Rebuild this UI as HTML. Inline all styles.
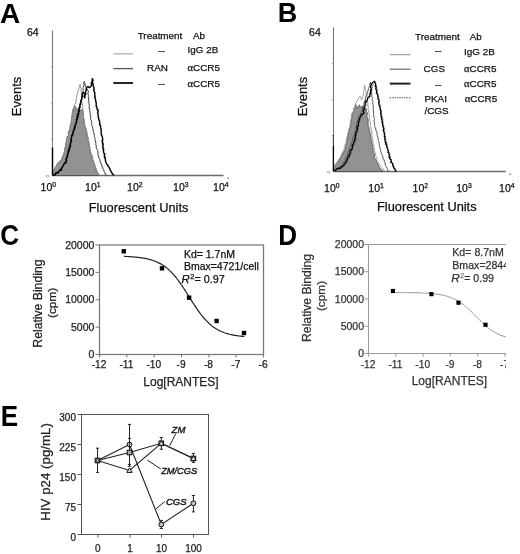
<!DOCTYPE html>
<html><head><meta charset="utf-8"><style>
html,body{margin:0;padding:0;background:#fff;}
body{width:520px;height:554px;overflow:hidden;font-family:"Liberation Sans", sans-serif;}
svg{display:block;filter:blur(0.4px);}
</style></head><body>
<svg width="520" height="554" viewBox="0 0 520 554">
<rect width="520" height="554" fill="#fff"/>
<text x="0.1" y="22.6" font-size="28" text-anchor="start" font-weight="bold" font-style="normal" fill="#000" font-family='"Liberation Sans", sans-serif' >A</text>
<text x="277.8" y="22.4" font-size="27" text-anchor="start" font-weight="bold" font-style="normal" fill="#000" font-family='"Liberation Sans", sans-serif' >B</text>
<text x="0" y="0" font-size="28.6" text-anchor="start" font-weight="bold" font-style="normal" fill="#000" font-family='"Liberation Sans", sans-serif' transform="translate(0.3,244.6) scale(0.91,1)">C</text>
<text x="0" y="0" font-size="28.6" text-anchor="start" font-weight="bold" font-style="normal" fill="#000" font-family='"Liberation Sans", sans-serif' transform="translate(278.2,245) scale(0.91,1)">D</text>
<text x="0" y="0" font-size="28.6" text-anchor="start" font-weight="bold" font-style="normal" fill="#000" font-family='"Liberation Sans", sans-serif' transform="translate(0.8,425.6) scale(0.91,1)">E</text>
<line x1="52.5" y1="30.6" x2="52.5" y2="175.5" stroke="#777" stroke-width="1.1" />
<line x1="52.5" y1="175.5" x2="223.5" y2="175.5" stroke="#6a6a6a" stroke-width="1.3" />
<circle cx="228.0" cy="178.2" r="0.7" fill="#444"/>
<line x1="51.0" y1="66.825" x2="52.5" y2="66.825" stroke="#999" stroke-width="1" />
<line x1="51.0" y1="103.05000000000001" x2="52.5" y2="103.05000000000001" stroke="#999" stroke-width="1" />
<line x1="51.0" y1="139.275" x2="52.5" y2="139.275" stroke="#999" stroke-width="1" />
<ellipse cx="47.7" cy="176.2" rx="1.6" ry="0.9" fill="none" stroke="#888" stroke-width="0.6"/>
<text x="48.3" y="191" font-size="10.5" text-anchor="middle" fill="#111" stroke="#111" stroke-width="0.25" font-family='"Liberation Sans", sans-serif'>10<tspan font-size="6.8" dy="-3.6">0</tspan></text>
<text x="92.8" y="191" font-size="10.5" text-anchor="middle" fill="#111" stroke="#111" stroke-width="0.25" font-family='"Liberation Sans", sans-serif'>10<tspan font-size="6.8" dy="-3.6">1</tspan></text>
<text x="134.8" y="191" font-size="10.5" text-anchor="middle" fill="#111" stroke="#111" stroke-width="0.25" font-family='"Liberation Sans", sans-serif'>10<tspan font-size="6.8" dy="-3.6">2</tspan></text>
<text x="180.8" y="191" font-size="10.5" text-anchor="middle" fill="#111" stroke="#111" stroke-width="0.25" font-family='"Liberation Sans", sans-serif'>10<tspan font-size="6.8" dy="-3.6">3</tspan></text>
<text x="220.8" y="191" font-size="10.5" text-anchor="middle" fill="#111" stroke="#111" stroke-width="0.25" font-family='"Liberation Sans", sans-serif'>10<tspan font-size="6.8" dy="-3.6">4</tspan></text>
<line x1="333.5" y1="27.4" x2="333.5" y2="171.5" stroke="#777" stroke-width="1.1" />
<line x1="333.5" y1="171.5" x2="505.7" y2="171.5" stroke="#6a6a6a" stroke-width="1.3" />
<circle cx="510.2" cy="174.2" r="0.7" fill="#444"/>
<line x1="332.0" y1="63.425" x2="333.5" y2="63.425" stroke="#999" stroke-width="1" />
<line x1="332.0" y1="99.44999999999999" x2="333.5" y2="99.44999999999999" stroke="#999" stroke-width="1" />
<line x1="332.0" y1="135.475" x2="333.5" y2="135.475" stroke="#999" stroke-width="1" />
<ellipse cx="328.7" cy="172.2" rx="1.6" ry="0.9" fill="none" stroke="#888" stroke-width="0.6"/>
<text x="331.8" y="191.5" font-size="10.5" text-anchor="middle" fill="#111" stroke="#111" stroke-width="0.25" font-family='"Liberation Sans", sans-serif'>10<tspan font-size="6.8" dy="-3.6">0</tspan></text>
<text x="376.1" y="191.5" font-size="10.5" text-anchor="middle" fill="#111" stroke="#111" stroke-width="0.25" font-family='"Liberation Sans", sans-serif'>10<tspan font-size="6.8" dy="-3.6">1</tspan></text>
<text x="420.3" y="191.5" font-size="10.5" text-anchor="middle" fill="#111" stroke="#111" stroke-width="0.25" font-family='"Liberation Sans", sans-serif'>10<tspan font-size="6.8" dy="-3.6">2</tspan></text>
<text x="464.0" y="191.5" font-size="10.5" text-anchor="middle" fill="#111" stroke="#111" stroke-width="0.25" font-family='"Liberation Sans", sans-serif'>10<tspan font-size="6.8" dy="-3.6">3</tspan></text>
<text x="506.8" y="191.5" font-size="10.5" text-anchor="middle" fill="#111" stroke="#111" stroke-width="0.25" font-family='"Liberation Sans", sans-serif'>10<tspan font-size="6.8" dy="-3.6">4</tspan></text>
<text x="38.6" y="35.8" font-size="10.5" text-anchor="end" font-weight="normal" font-style="normal" fill="#111" stroke="#111" stroke-width="0.25" font-family='"Liberation Sans", sans-serif' >64</text>
<text x="320.8" y="35.7" font-size="10.5" text-anchor="end" font-weight="normal" font-style="normal" fill="#111" stroke="#111" stroke-width="0.25" font-family='"Liberation Sans", sans-serif' >64</text>
<text x="88.8" y="211.9" font-size="12.8" text-anchor="start" font-weight="normal" font-style="normal" fill="#111" stroke="#111" stroke-width="0.25" font-family='"Liberation Sans", sans-serif' >Fluorescent Units</text>
<text x="377" y="210.75" font-size="12.8" text-anchor="start" font-weight="normal" font-style="normal" fill="#111" stroke="#111" stroke-width="0.25" font-family='"Liberation Sans", sans-serif' >Fluorescent Units</text>
<text x="0" y="0" font-size="12.9" text-anchor="middle" font-weight="normal" font-style="normal" fill="#111" stroke="#111" stroke-width="0.25" font-family='"Liberation Sans", sans-serif' transform="translate(20.9,96.5) rotate(-90)">Events</text>
<text x="0" y="0" font-size="12.9" text-anchor="middle" font-weight="normal" font-style="normal" fill="#111" stroke="#111" stroke-width="0.25" font-family='"Liberation Sans", sans-serif' transform="translate(306.6,96.6) rotate(-90)">Events</text>
<text x="137.7" y="39.4" font-size="9.9" text-anchor="start" font-weight="normal" font-style="normal" fill="#111" stroke="#111" stroke-width="0.25" font-family='"Liberation Sans", sans-serif' >Treatment</text>
<text x="193" y="39.4" font-size="9.9" text-anchor="start" font-weight="normal" font-style="normal" fill="#111" stroke="#111" stroke-width="0.25" font-family='"Liberation Sans", sans-serif' >Ab</text>
<line x1="113.3" y1="53.8" x2="133" y2="53.8" stroke="#bbb" stroke-width="1.5" />
<text x="161.6" y="53.5" font-size="9.9" text-anchor="middle" font-weight="normal" font-style="normal" fill="#111" stroke="#111" stroke-width="0.25" font-family='"Liberation Sans", sans-serif' >--</text>
<text x="187.5" y="53" font-size="9.9" text-anchor="start" font-weight="normal" font-style="normal" fill="#111" stroke="#111" stroke-width="0.25" font-family='"Liberation Sans", sans-serif' >IgG 2B</text>
<line x1="113.3" y1="68.6" x2="133" y2="68.6" stroke="#555" stroke-width="1.3" />
<text x="147" y="71" font-size="9.9" text-anchor="start" font-weight="normal" font-style="normal" fill="#111" stroke="#111" stroke-width="0.25" font-family='"Liberation Sans", sans-serif' >RAN</text>
<text x="187.5" y="71" font-size="9.9" fill="#111" stroke="#111" stroke-width="0.25" font-family='"Liberation Sans", sans-serif'><tspan font-family='"Liberation Serif", serif' font-size="10.5">α</tspan>CCR5</text>
<line x1="113.3" y1="83" x2="133" y2="83" stroke="#1a1a1a" stroke-width="1.9" />
<text x="161.6" y="87.3" font-size="9.9" text-anchor="middle" font-weight="normal" font-style="normal" fill="#111" stroke="#111" stroke-width="0.25" font-family='"Liberation Sans", sans-serif' >--</text>
<text x="187.5" y="86.8" font-size="9.9" fill="#111" stroke="#111" stroke-width="0.25" font-family='"Liberation Sans", sans-serif'><tspan font-family='"Liberation Serif", serif' font-size="10.5">α</tspan>CCR5</text>
<text x="415" y="40.2" font-size="9.9" text-anchor="start" font-weight="normal" font-style="normal" fill="#111" stroke="#111" stroke-width="0.25" font-family='"Liberation Sans", sans-serif' >Treatment</text>
<text x="469.7" y="40.2" font-size="9.9" text-anchor="start" font-weight="normal" font-style="normal" fill="#111" stroke="#111" stroke-width="0.25" font-family='"Liberation Sans", sans-serif' >Ab</text>
<line x1="389.8" y1="54.6" x2="410.5" y2="54.6" stroke="#aaa" stroke-width="1.4" />
<text x="438.3" y="54" font-size="9.9" text-anchor="middle" font-weight="normal" font-style="normal" fill="#111" stroke="#111" stroke-width="0.25" font-family='"Liberation Sans", sans-serif' >--</text>
<text x="464" y="55" font-size="9.9" text-anchor="start" font-weight="normal" font-style="normal" fill="#111" stroke="#111" stroke-width="0.25" font-family='"Liberation Sans", sans-serif' >IgG 2B</text>
<line x1="389.8" y1="69.2" x2="410.5" y2="69.2" stroke="#777" stroke-width="1.3" />
<text x="423.6" y="72" font-size="9.9" text-anchor="start" font-weight="normal" font-style="normal" fill="#111" stroke="#111" stroke-width="0.25" font-family='"Liberation Sans", sans-serif' >CGS</text>
<text x="464" y="72" font-size="9.9" fill="#111" stroke="#111" stroke-width="0.25" font-family='"Liberation Sans", sans-serif'><tspan font-family='"Liberation Serif", serif' font-size="10.5">α</tspan>CCR5</text>
<line x1="389.8" y1="83.6" x2="410.5" y2="83.6" stroke="#1a1a1a" stroke-width="1.9" />
<text x="438.3" y="88.2" font-size="9.9" text-anchor="middle" font-weight="normal" font-style="normal" fill="#111" stroke="#111" stroke-width="0.25" font-family='"Liberation Sans", sans-serif' >--</text>
<text x="464" y="87.3" font-size="9.9" fill="#111" stroke="#111" stroke-width="0.25" font-family='"Liberation Sans", sans-serif'><tspan font-family='"Liberation Serif", serif' font-size="10.5">α</tspan>CCR5</text>
<line x1="389.8" y1="97.7" x2="410.5" y2="97.7" stroke="#666" stroke-width="1.2" stroke-dasharray="1.2,1.2"/>
<text x="424.4" y="102.1" font-size="9.9" text-anchor="start" font-weight="normal" font-style="normal" fill="#111" stroke="#111" stroke-width="0.25" font-family='"Liberation Sans", sans-serif' >PKAI</text>
<text x="464.8" y="102.1" font-size="9.9" fill="#111" stroke="#111" stroke-width="0.25" font-family='"Liberation Sans", sans-serif'><tspan font-family='"Liberation Serif", serif' font-size="10.5">α</tspan>CCR5</text>
<text x="424.4" y="114.2" font-size="9.9" text-anchor="start" font-weight="normal" font-style="normal" fill="#111" stroke="#111" stroke-width="0.25" font-family='"Liberation Sans", sans-serif' >/CGS</text>
<polygon points="52.6,175.5 52.6,174.1 52.7,173.0 52.3,172.1 53.4,170.6 53.5,169.9 54.2,169.7 54.7,168.6 55.0,167.5 56.0,166.6 56.5,165.6 56.4,164.9 57.4,164.1 57.8,162.8 59.0,162.5 60.2,161.5 61.1,160.6 61.6,159.3 62.2,158.3 62.1,157.8 62.7,156.0 63.4,155.9 63.6,154.4 63.8,153.2 64.2,152.0 64.7,151.2 64.9,150.2 65.2,149.2 64.7,147.9 65.6,147.1 65.5,146.1 65.4,145.0 65.9,144.1 65.7,142.6 66.6,142.2 66.7,140.4 66.4,139.8 67.1,138.7 66.7,138.3 66.9,137.0 67.5,136.2 68.3,135.4 68.6,134.0 68.1,132.9 68.4,132.2 69.0,130.8 69.0,130.3 69.9,128.7 70.2,127.9 70.0,127.4 70.3,125.9 70.6,124.9 70.8,123.8 71.0,123.0 71.4,121.4 71.2,120.1 71.5,119.8 71.3,118.2 71.9,117.0 72.1,115.5 71.8,115.0 72.3,113.9 72.4,112.7 73.0,111.5 72.7,109.5 73.8,109.1 73.8,107.7 74.1,106.9 74.5,105.7 75.6,106.9 76.4,108.3 77.1,109.3 78.7,109.6 79.3,110.3 80.6,110.3 81.4,109.2 82.5,110.7 82.8,111.3 83.1,112.8 83.0,113.9 83.5,114.4 83.5,116.1 83.3,116.5 83.5,117.9 84.1,119.3 83.8,119.8 84.2,121.4 84.1,122.5 84.2,122.9 84.3,124.6 84.5,125.2 84.8,126.3 84.9,127.7 85.8,127.8 86.1,129.6 86.4,130.1 86.1,131.6 86.9,132.4 86.9,133.3 86.9,133.9 86.9,134.8 87.2,136.1 87.2,137.4 87.9,138.4 88.2,139.4 88.2,140.4 88.5,140.6 88.4,141.9 88.8,143.5 89.3,144.3 89.0,145.6 89.7,146.4 89.8,147.7 89.5,148.7 90.1,150.0 90.1,150.8 90.2,152.7 90.2,153.7 91.6,154.5 91.7,154.9 92.2,156.1 92.5,157.2 92.4,158.6 92.8,158.8 93.0,159.8 93.9,161.6 93.9,161.7 94.1,162.9 94.6,163.9 94.7,165.1 94.9,165.7 95.4,166.6 95.5,168.1 95.7,168.5 96.3,169.7 96.4,171.1 97.0,172.0 97.2,172.6 97.9,173.6 98.3,174.5 98.5,175.5" fill="#929292" stroke="#4a4a4a" stroke-width="0.8"/>
<polyline points="52.6,175.0 52.7,174.0 53.3,173.1 53.3,171.7 54.0,171.1 53.8,170.6 54.4,169.6 54.7,168.1 55.5,167.0 56.1,166.7 56.4,165.9 56.8,164.9 57.4,163.4 57.9,162.5 58.7,162.4 59.6,160.8 60.5,160.8 61.6,158.9 62.2,158.0 62.7,157.6 63.0,156.9 63.1,155.7 63.7,154.6 63.6,153.4 64.5,152.3 64.2,150.6 64.8,150.0 64.5,148.5 65.1,147.4 65.2,147.0 65.5,145.6 65.9,144.7 66.3,143.4 66.5,143.4 66.6,142.2 67.4,141.2 67.5,140.2 67.9,139.0 67.7,138.4 68.4,136.6 68.5,136.4 68.9,134.9 68.8,133.7 69.3,132.7 69.2,131.8 70.0,131.2 70.0,129.8 70.3,128.9 70.0,128.1 70.0,126.6 70.4,125.8 70.6,124.4 71.1,123.5 71.4,122.2 71.3,121.5 71.6,120.4 71.6,119.6 71.8,118.2 71.7,117.5 72.4,116.2 71.9,114.9 72.5,113.5 72.9,112.7 72.6,111.6 72.9,109.7 73.6,108.6 74.2,108.3 74.5,106.6 74.5,105.6 75.1,104.2 75.9,102.6 75.7,101.8 76.1,101.1 76.0,99.6 76.3,99.0 76.6,97.8 76.6,97.5 76.7,95.9 77.3,94.6 77.7,93.3 77.3,93.0 77.8,91.9 78.3,90.7 78.6,89.2 79.0,88.6 79.3,87.3 79.5,87.0 79.4,85.6 79.9,84.6 80.4,86.0 80.2,87.0 80.8,88.2 81.3,88.9 80.9,90.6 81.0,92.0 81.5,92.5 81.5,93.9 81.5,95.1 81.3,95.8 81.9,96.6 81.8,98.3 81.8,99.2 81.9,99.8 81.7,101.4 82.0,102.0 82.2,103.3 82.3,103.8 82.7,105.0 82.9,105.9 82.5,106.7 82.5,107.8 83.1,109.6 82.8,110.1 83.3,111.5 83.4,113.0 83.0,113.9 83.2,114.8 83.6,115.9 83.5,116.7 83.5,118.3 84.3,119.4 84.0,120.6 84.3,121.2 84.8,122.4 84.4,123.5 84.7,124.7 85.0,125.5 85.3,125.9 85.4,127.5 85.6,128.3 86.0,128.9 86.2,129.7 86.5,131.3 87.2,132.2 86.8,133.5 87.4,134.5 87.4,134.9 87.4,136.1 88.4,137.5 88.5,138.4 88.2,139.9 88.8,141.2 89.0,142.2 88.9,143.1 89.5,144.2 89.3,145.3 89.5,146.2 89.3,146.5 89.6,147.5 90.0,148.6 90.2,150.2 90.6,150.9 90.7,151.8 91.0,153.3 91.6,153.8 91.5,155.3 91.9,156.0 91.9,157.3 92.2,157.7 92.4,159.5 92.8,160.1 93.1,160.8 93.4,162.0 93.7,162.6 94.4,163.7 94.3,164.5 95.0,165.9 95.0,167.1 95.8,167.9 96.7,168.6 96.5,169.9 97.0,171.2 97.6,172.4 98.1,173.0 99.1,174.7 100.0,175.5" fill="none" stroke="#8f8f8f" stroke-width="1"/>
<polyline points="53.0,175.0 54.0,174.7 54.8,174.2 55.8,172.9 57.1,172.8 57.5,171.6 59.0,171.3 59.0,170.5 59.9,169.2 60.6,168.7 61.7,167.6 62.0,167.4 62.8,166.5 63.7,165.3 63.6,164.4 64.5,162.8 64.5,162.4 65.5,160.8 65.6,159.6 66.2,158.8 66.2,158.4 66.9,157.2 67.0,156.3 67.1,155.4 67.3,153.9 67.7,153.3 67.7,151.8 68.3,151.2 68.4,150.2 68.5,149.0 68.6,148.2 69.5,147.0 69.2,146.2 70.0,144.7 70.3,144.1 70.2,143.4 70.7,142.4 70.6,140.8 70.8,139.6 70.8,139.5 71.0,138.1 71.7,136.6 71.4,135.7 72.1,134.7 71.9,134.1 73.0,132.7 73.0,131.7 73.5,130.9 73.8,130.1 73.6,129.0 73.9,127.7 74.2,127.3 75.1,125.5 75.3,124.7 75.2,123.6 75.8,122.7 75.9,122.1 76.3,121.3 76.3,119.8 76.2,118.9 76.8,118.3 76.7,117.3 77.1,116.0 77.0,115.2 77.6,113.8 77.8,112.6 77.9,112.2 78.3,111.1 78.4,109.7 78.6,109.5 78.7,107.9 79.0,106.7 79.7,106.4 80.1,105.4 80.3,104.1 80.1,103.0 80.7,102.4 80.6,101.4 80.7,100.3 81.3,99.5 81.6,97.8 81.2,96.7 81.6,96.2 82.1,95.0 82.4,93.5 82.4,92.8 83.3,91.0 83.0,90.3 83.1,88.5 83.1,87.6 83.7,86.2 84.0,85.7 84.1,85.0 83.6,83.4 84.0,82.3 84.2,81.5 84.8,82.4 84.8,83.3 85.4,84.9 85.3,85.3 85.4,86.8 86.4,87.1 86.7,88.5 87.3,89.0 88.1,90.7 88.4,92.0 87.8,93.1 87.9,93.3 88.2,94.7 88.4,95.4 88.3,96.5 88.7,97.7 88.4,99.0 88.6,99.8 88.9,101.5 89.1,102.9 88.7,103.3 89.3,104.9 89.5,105.8 89.1,106.9 89.0,107.6 89.8,109.1 89.6,110.4 90.1,111.2 90.0,112.4 90.1,113.0 90.0,113.8 90.8,115.3 90.4,116.2 90.6,117.0 90.8,118.5 90.7,119.7 91.2,120.1 91.6,121.2 91.8,122.6 91.2,123.5 91.8,124.4 91.7,125.4 92.5,126.7 92.6,127.2 92.7,128.6 93.4,130.2 93.0,131.0 93.3,132.4 94.1,133.0 93.8,134.0 94.6,135.7 94.4,136.2 94.4,137.3 95.3,138.4 95.0,139.3 95.1,140.5 95.8,142.0 95.9,143.4 95.6,144.6 96.5,145.2 96.1,146.1 96.3,147.7 96.4,148.8 97.4,149.6 97.7,150.6 98.0,151.8 98.0,153.4 97.9,153.9 98.2,155.7 99.0,156.1 98.7,157.7 99.4,158.7 99.3,159.1 100.3,160.1 99.9,161.0 100.2,161.8 101.1,163.0 100.9,163.7 102.0,165.6 101.7,166.6 102.7,167.0 102.9,168.2 102.7,169.0 103.7,169.9 104.0,171.3 104.5,171.9 104.9,172.7 105.1,174.0 106.1,174.7 106.2,175.5" fill="none" stroke="#333" stroke-width="1"/>
<line x1="52.5" y1="175.5" x2="52.5" y2="147.7" stroke="#000" stroke-width="1.4" />
<polyline points="53.2,175.0 53.8,175.0 55.4,174.7 55.7,173.1 56.4,172.7 57.8,173.0 58.4,172.1 60.2,170.1 61.4,170.4 61.4,169.3 61.4,168.5 62.4,167.3 63.1,165.8 63.5,165.2 63.9,164.2 64.8,163.3 65.7,163.1 66.2,162.0 66.6,160.2 65.9,159.1 66.8,158.5 67.0,157.2 67.6,156.1 67.3,155.3 68.0,154.5 67.9,154.2 68.3,152.4 68.4,150.9 69.0,151.1 69.4,149.0 69.9,148.5 69.3,147.5 70.3,146.7 70.6,145.4 70.3,144.7 70.7,143.0 70.8,142.1 71.6,141.3 71.1,140.1 71.5,138.6 71.4,138.2 71.8,136.4 71.7,135.7 72.8,135.1 72.8,134.0 73.1,133.5 73.0,132.6 73.1,131.4 73.7,130.7 74.7,129.2 74.3,128.0 75.1,127.8 74.9,125.8 75.2,125.2 75.7,124.8 76.1,122.9 76.4,122.1 76.8,121.2 76.4,119.8 77.3,119.5 77.2,117.1 78.2,117.0 77.4,115.0 78.1,114.5 78.9,114.1 78.6,112.0 79.4,111.0 79.1,109.2 79.6,107.9 80.2,106.8 80.0,106.4 79.9,104.7 80.8,104.2 80.4,103.0 81.1,102.3 80.9,100.4 81.9,99.1 81.7,97.8 81.8,97.5 82.7,96.6 82.7,95.7 82.2,93.8 83.6,92.6 84.5,93.4 84.8,94.6 84.3,96.8 84.9,97.9 84.8,95.9 85.3,94.7 85.9,94.2 85.2,93.8 85.7,92.2 85.7,90.9 86.4,90.1 86.1,88.8 86.8,87.3 87.8,86.6 89.3,87.6 90.5,86.8 91.5,85.3 91.4,84.6 91.7,83.9 91.2,82.6 92.2,82.0 92.1,80.6 92.6,79.2 92.0,78.8 93.0,80.0 93.1,80.5 92.3,81.7 92.7,83.1 93.1,84.2 93.1,84.5 93.3,86.6 93.9,87.2 93.8,88.2 94.3,89.4 93.7,90.0 94.4,91.9 94.9,92.4 94.6,94.4 95.1,95.7 94.6,96.5 95.2,96.6 95.0,98.6 95.4,99.2 95.7,99.9 95.6,101.3 95.9,101.7 96.3,103.0 96.1,103.7 96.3,104.9 96.2,106.5 96.8,106.8 97.1,108.1 96.9,109.1 98.2,110.1 97.9,111.6 97.5,112.1 98.0,113.0 97.9,115.0 98.5,116.1 98.4,116.5 98.4,118.3 99.0,118.9 98.8,119.5 99.6,121.7 99.9,122.4 99.9,122.6 99.5,124.7 100.5,125.3 100.5,126.3 100.6,127.1 100.7,128.4 101.3,129.6 101.1,131.2 101.2,132.3 101.2,133.5 101.7,134.3 101.3,135.2 102.1,136.1 102.3,137.3 102.7,138.9 102.6,140.5 101.9,140.9 102.8,142.3 102.3,143.9 103.3,143.9 102.9,145.8 102.6,146.9 103.3,147.8 102.9,148.9 103.7,149.4 103.3,151.5 103.5,151.4 104.0,153.6 104.9,154.2 104.3,155.6 104.3,156.8 105.4,157.3 104.9,158.2 105.5,159.8 105.5,161.6 106.1,162.4 106.4,163.5 106.9,164.3 107.6,164.6 108.1,166.4 108.7,166.5 109.1,167.3 109.9,169.0 110.1,170.0 110.3,170.1 111.1,171.5 111.7,172.8 112.7,174.0 113.5,174.8 113.8,175.5" fill="none" stroke="#000" stroke-width="1.4" stroke-linejoin="round"/>
<polygon points="333.6,171.5 333.7,170.5 333.6,169.2 334.1,168.6 334.5,166.9 335.0,166.3 335.2,165.2 335.9,164.7 337.3,163.1 337.7,161.9 338.2,161.3 339.1,160.8 339.7,158.9 340.4,157.8 341.1,157.7 341.4,155.8 341.8,155.0 342.1,154.0 343.0,152.9 343.8,151.9 344.4,150.9 344.3,150.1 344.9,149.5 345.1,148.5 345.1,147.2 345.7,146.2 345.6,145.4 346.4,143.4 346.4,143.1 346.8,141.8 346.9,140.4 346.8,139.5 347.6,138.1 347.6,137.0 347.8,135.9 348.3,135.2 348.4,134.4 348.6,132.6 348.8,131.4 349.4,130.8 349.3,129.4 349.6,128.2 350.0,127.5 350.6,126.9 350.7,125.2 351.1,123.8 350.9,123.5 350.9,122.3 351.0,120.7 351.4,119.6 351.6,118.9 351.8,117.3 351.8,116.6 352.0,115.6 352.2,114.2 352.9,113.6 352.8,112.9 353.7,111.9 354.2,110.7 354.4,109.1 354.2,108.9 355.2,107.5 355.4,106.2 355.3,105.7 355.5,103.9 356.1,105.6 356.6,106.1 356.9,107.7 357.9,107.8 357.9,107.1 358.4,106.7 359.4,104.8 359.8,105.8 360.8,107.4 362.4,106.4 363.0,106.8 364.0,108.0 365.0,108.4 366.3,108.8 366.7,110.4 366.3,111.3 366.5,111.8 367.3,112.7 367.4,114.5 366.9,115.2 366.9,116.1 367.2,117.6 367.9,118.0 368.0,118.9 368.0,120.1 368.3,120.9 368.0,122.2 368.3,123.5 368.1,124.1 368.1,125.5 368.6,126.8 368.8,127.2 369.0,128.2 369.3,129.7 369.4,130.6 370.0,131.8 370.2,132.9 369.9,134.0 370.7,134.8 370.6,136.2 371.2,137.3 371.0,138.3 371.0,139.4 371.6,140.6 371.8,141.7 372.1,142.7 372.5,143.5 372.6,144.5 372.7,145.6 372.3,146.8 373.1,148.1 373.3,149.5 372.8,150.7 373.1,151.1 373.6,152.4 374.1,153.4 374.2,154.6 374.4,155.5 374.9,155.7 374.4,156.7 374.8,158.4 375.1,159.2 376.1,159.7 376.4,160.5 376.7,162.4 377.6,163.1 378.1,164.0 377.9,165.0 378.8,165.5 379.2,167.2 379.8,167.8 380.7,169.0 381.5,169.6 382.2,170.2 382.7,171.5" fill="#929292" stroke="#4a4a4a" stroke-width="0.8"/>
<polyline points="333.8,171.0 334.1,170.2 333.7,168.5 334.3,167.3 333.9,166.4 334.8,165.5 335.2,164.3 336.2,163.8 336.3,162.5 337.4,162.3 337.7,161.2 338.3,160.8 338.7,159.2 339.6,158.4 340.4,157.4 340.5,156.6 341.1,155.7 341.5,154.6 342.0,153.5 342.3,152.8 342.9,151.8 343.3,150.8 344.2,149.5 344.2,148.6 344.4,147.1 345.0,146.3 345.0,144.7 345.9,143.8 345.8,143.0 346.1,141.8 346.4,141.2 346.4,139.4 346.3,138.8 346.8,138.0 347.2,136.4 347.4,135.7 347.6,134.9 347.5,133.3 348.1,132.4 348.3,131.4 348.4,129.8 348.7,128.9 349.4,128.5 349.8,126.8 349.6,126.2 350.0,125.3 350.0,124.4 350.2,122.6 350.8,122.1 350.4,120.7 350.9,119.5 351.2,118.1 351.5,117.7 351.4,116.4 351.4,115.6 351.5,113.8 352.4,112.7 352.8,111.6 353.2,110.9 353.5,110.3 353.3,109.3 354.0,107.7 354.6,106.7 355.0,106.1 355.3,105.0 355.5,103.4 356.4,102.9 356.7,101.7 357.3,101.1 357.5,100.3 358.4,99.0 358.9,97.5 359.6,96.7 359.8,96.1 360.4,97.0 360.7,97.2 361.2,98.9 361.1,99.7 361.6,100.1 362.0,99.1 362.4,98.4 362.3,97.2 362.9,96.7 363.1,95.1 363.5,94.1 363.4,93.2 364.0,92.6 363.6,91.4 364.1,89.8 364.2,89.4 364.4,87.8 364.2,87.1 364.4,86.1 364.8,85.1 364.5,86.6 365.4,87.2 365.4,88.4 365.2,89.7 365.9,90.7 365.9,91.6 366.1,92.8 366.4,93.9 367.1,95.4 367.2,96.0 367.1,96.9 367.5,97.7 367.5,99.3 367.7,99.6 367.6,100.5 367.3,102.0 368.1,102.9 367.7,104.1 367.9,105.3 368.0,106.4 368.6,106.6 368.1,107.6 368.1,109.3 368.8,110.0 368.5,111.1 369.0,112.3 368.9,113.1 368.8,113.8 369.4,115.5 368.9,115.5 369.5,116.7 369.2,117.7 369.3,119.3 369.7,120.5 370.2,121.4 370.3,121.7 370.0,122.9 370.5,123.5 370.3,125.1 370.4,126.3 370.4,126.9 371.2,127.9 370.8,129.0 371.3,129.7 371.6,130.8 371.8,131.6 371.9,133.1 371.4,133.9 372.0,134.7 371.7,135.5 372.5,137.3 372.6,138.4 372.8,139.1 372.7,140.2 372.5,140.9 372.8,141.6 372.9,143.0 373.4,144.5 373.8,145.2 374.0,145.7 373.6,147.5 374.2,147.7 374.4,149.5 374.4,150.0 374.3,150.7 374.9,152.1 375.2,152.8 375.4,153.7 375.6,154.9 376.0,156.4 376.2,157.1 376.6,157.8 377.0,158.6 376.7,160.1 377.2,161.4 377.5,161.5 378.2,162.3 379.4,163.9 379.9,164.7 380.4,165.8 380.7,166.3 381.5,167.0 382.4,167.8 383.0,168.8 383.7,169.9 384.1,170.3 385.0,171.5" fill="none" stroke="#999" stroke-width="1"/>
<polyline points="334.0,171.0 334.6,170.6 336.0,170.0 336.8,169.1 337.6,168.7 338.2,168.0 338.6,167.6 339.7,166.8 340.5,166.2 341.4,166.0 341.7,165.3 342.7,164.2 342.8,163.4 344.2,161.7 344.6,160.9 344.9,160.1 345.5,158.9 345.9,158.5 346.1,157.3 346.8,156.2 347.4,155.2 347.9,153.6 347.8,153.1 348.1,152.0 349.0,150.7 349.4,150.2 349.2,148.7 349.9,147.9 350.1,147.2 350.7,146.2 351.2,144.8 351.4,143.6 351.3,142.7 352.0,142.0 352.2,141.1 352.8,140.4 352.5,138.7 353.1,138.5 353.2,136.6 353.5,136.2 354.2,134.9 354.5,133.9 354.9,133.4 355.0,132.1 355.3,130.8 355.6,130.1 355.9,129.0 356.0,127.7 355.7,127.5 356.6,125.8 356.7,124.6 356.3,124.1 356.4,123.1 356.8,122.3 357.7,121.4 357.6,119.6 358.2,118.7 358.0,117.6 359.0,116.6 358.9,115.7 359.7,114.9 360.6,113.9 360.9,112.8 361.3,112.4 362.1,110.7 362.4,109.8 362.3,109.3 362.3,107.8 362.9,107.4 363.0,105.8 363.8,104.7 363.8,103.6 364.1,103.1 364.3,102.0 364.9,100.7 365.0,100.4 365.5,98.8 365.2,97.7 366.1,97.1 365.9,96.1 366.2,95.5 367.2,93.8 367.4,93.3 367.8,91.6 367.4,90.9 368.4,90.3 368.4,88.5 368.6,88.4 369.2,86.8 369.7,85.9 369.8,85.4 369.6,84.2 370.2,83.2 370.5,82.0 370.3,82.8 370.5,84.4 371.2,84.7 371.0,86.1 370.7,86.9 371.4,87.9 371.6,88.9 371.7,89.9 371.5,90.8 371.4,91.8 371.7,93.2 371.7,94.2 371.9,95.1 371.8,96.8 372.5,97.4 372.2,98.6 372.2,100.1 372.2,100.3 373.0,101.7 372.7,102.6 372.6,104.2 373.2,104.5 373.2,105.6 373.3,106.6 373.3,108.4 373.5,108.8 373.1,110.2 373.5,110.8 373.5,112.1 373.5,113.2 373.7,114.5 373.5,114.9 373.7,115.8 373.9,117.6 374.5,118.2 374.4,119.7 374.1,120.0 374.1,121.3 374.2,122.2 374.7,123.1 374.5,124.5 374.7,125.4 374.5,126.5 375.1,127.7 375.8,128.1 375.6,129.5 376.0,129.7 376.2,131.1 376.7,131.7 377.1,132.9 377.0,134.2 377.3,135.6 377.4,136.0 377.8,137.1 378.4,139.0 378.0,139.9 378.3,140.5 378.8,141.7 378.9,142.4 379.3,143.8 379.3,145.2 379.4,146.0 379.9,146.9 380.0,147.6 380.0,149.0 380.8,149.7 380.5,150.8 381.0,151.8 381.2,152.9 381.5,153.9 382.1,155.1 382.5,155.7 383.1,156.9 382.8,158.5 383.3,159.3 384.1,159.6 384.3,161.4 384.8,162.1 384.9,163.0 385.4,164.0 385.3,165.2 385.8,165.5 386.2,166.8 387.1,168.1 387.3,168.8 387.6,169.8 388.0,170.9 388.8,171.5" fill="none" stroke="#555" stroke-width="1"/>
<line x1="333.4" y1="171.5" x2="333.4" y2="146" stroke="#000" stroke-width="1.3" />
<line x1="333.4" y1="146" x2="333.4" y2="135" stroke="#444" stroke-width="1.1" />
<polyline points="335.1,171.1 336.4,170.9 337.2,169.7 338.6,169.5 339.3,169.1 340.6,168.8 341.9,167.8 342.7,167.5 343.7,166.7 344.5,165.9 344.8,165.8 345.9,164.2 346.1,163.6 346.7,162.9 347.2,161.7 347.7,160.5 348.0,159.9 348.5,159.0 348.9,158.1 349.5,157.1 349.5,156.7 350.4,155.6 350.2,154.1 351.2,153.7 351.5,151.9 351.5,151.7 351.9,150.5 352.4,149.5 352.5,148.1 353.4,147.3 353.2,145.9 353.8,144.8 354.5,144.7 354.9,143.7 354.9,141.8 355.6,141.5 355.8,140.5 356.1,139.1 356.1,138.2 356.3,136.2 356.5,135.1 356.7,134.6 356.8,133.2 357.3,132.3 357.9,131.4 357.6,129.8 358.3,128.8 358.3,128.3 358.0,127.4 358.5,126.4 358.8,125.1 359.0,124.1 359.2,122.6 359.6,122.0 359.8,120.4 360.0,119.7 360.7,118.7 361.4,117.7 362.2,116.4 362.5,116.2 362.8,114.4 364.0,114.3 364.3,113.4 364.2,112.2 365.1,111.3 365.0,109.9 365.2,109.5 365.1,108.0 365.8,107.3 365.7,106.5 366.2,105.3 366.4,104.0 366.2,103.0 366.9,101.6 367.0,101.2 367.8,99.4 368.8,98.4 369.6,97.6 370.3,97.3 370.6,96.5 371.0,95.1 370.8,94.0 371.5,93.5 371.5,92.1 371.5,91.1 371.9,89.5 371.7,89.2 372.0,88.2 372.5,87.2 372.2,85.4 373.4,85.0 373.8,84.0 374.6,82.8 375.3,82.1 375.6,82.5 375.7,84.2 375.7,84.2 376.2,85.8 376.6,87.1 376.5,88.0 377.1,88.9 377.5,90.3 377.4,90.8 377.3,92.6 377.5,92.9 377.9,94.7 378.5,95.8 378.1,97.0 378.9,97.9 379.2,99.0 379.3,100.2 379.4,101.4 379.4,101.8 379.6,103.7 380.2,104.4 380.4,105.8 380.3,106.7 380.3,107.5 380.8,108.7 380.8,110.2 381.1,111.5 381.3,112.4 381.6,113.6 381.9,115.3 382.1,116.3 382.5,117.0 382.4,118.1 383.0,119.5 382.5,120.7 383.4,121.6 383.2,123.1 383.4,123.4 383.5,125.2 383.8,126.4 384.3,127.3 384.3,127.9 384.3,129.4 384.8,130.3 384.6,131.8 385.0,132.1 385.1,133.6 385.1,135.0 385.4,135.7 385.5,136.5 385.6,137.9 386.3,139.3 385.8,140.6 386.5,141.1 386.0,141.9 386.9,142.8 386.7,144.2 387.3,144.8 387.4,146.7 387.6,147.6 387.5,147.9 387.7,148.9 388.0,150.1 389.0,150.9 389.3,152.9 389.3,153.5 389.9,154.8 390.0,155.6 390.6,156.8 390.2,157.5 391.2,158.6 391.3,159.3 391.3,160.2 391.5,161.7 392.2,162.5 392.8,163.4 392.9,164.8 393.7,165.7 394.1,166.5 394.6,167.4 394.7,168.5 395.5,169.4 396.1,170.2 396.3,171.0 396.7,172.1" fill="none" stroke="#333" stroke-width="0.9" stroke-dasharray="1,1"/>
<polyline points="334.2,170.5 335.5,170.0 336.7,168.9 337.7,168.3 339.0,168.2 340.3,168.3 341.3,166.9 341.8,166.8 343.2,165.7 343.6,165.4 344.0,164.6 344.5,163.7 345.0,163.1 346.1,162.6 345.9,161.9 346.8,160.7 346.8,159.8 347.7,158.1 347.7,157.9 347.9,157.0 349.2,156.2 348.8,155.4 349.9,154.0 350.1,152.2 350.0,151.2 350.5,150.0 351.2,150.1 352.0,149.0 352.3,147.0 352.5,147.1 352.3,145.3 352.9,144.5 353.6,143.3 353.5,142.9 354.1,141.1 354.6,140.8 355.1,139.6 354.9,138.7 355.4,137.5 355.1,135.9 356.0,134.8 355.8,134.3 355.7,132.9 356.4,131.9 357.0,131.1 357.4,129.0 357.6,128.1 357.0,128.2 357.1,126.2 358.0,126.0 358.3,125.0 358.5,123.1 358.3,122.0 359.0,121.1 359.1,119.9 359.6,119.2 359.4,118.0 360.2,117.1 360.6,116.3 361.1,114.7 362.6,114.2 363.0,113.6 363.8,113.2 363.3,111.3 363.5,110.6 363.5,109.7 364.4,108.4 364.0,107.2 364.3,106.8 365.0,106.1 365.1,105.0 365.0,103.5 366.1,101.9 365.3,101.1 366.5,101.0 367.5,99.3 367.4,98.4 368.8,97.0 369.2,96.9 369.7,95.2 370.3,93.9 369.8,93.7 370.5,92.6 370.5,90.9 370.7,90.8 370.6,89.6 371.3,88.9 370.7,87.2 370.8,85.9 371.1,84.9 371.9,83.7 372.6,82.6 373.0,82.2 374.6,81.3 374.9,82.5 374.9,82.6 375.6,83.7 375.6,85.0 375.2,86.5 376.2,86.6 376.0,88.7 375.7,88.7 376.7,90.8 376.9,91.4 376.3,93.1 377.6,94.2 377.7,95.5 377.7,96.0 378.1,96.6 377.9,98.5 377.9,98.7 379.0,100.3 379.1,101.5 378.6,102.3 378.8,103.5 379.1,105.4 379.6,105.9 380.0,107.2 380.3,108.7 380.1,109.5 381.0,110.7 380.9,112.5 380.5,113.1 381.2,114.7 380.8,115.3 381.6,116.5 381.2,117.4 381.7,118.8 381.5,119.2 382.4,120.8 381.9,121.9 382.3,122.8 382.6,124.7 382.9,126.1 382.7,126.0 383.4,127.5 383.8,129.0 383.2,129.8 383.6,131.4 383.7,131.5 384.4,133.0 384.1,133.7 384.6,134.4 384.3,136.5 385.1,136.9 384.6,138.7 385.4,140.2 385.1,140.9 385.3,142.4 386.2,142.9 385.5,144.1 385.8,144.1 386.8,145.1 386.6,146.6 386.9,147.3 387.4,148.4 387.9,149.5 388.2,151.3 387.8,152.3 388.8,153.0 388.9,154.0 389.5,154.8 389.2,155.9 389.2,157.5 389.9,157.4 389.9,158.9 390.9,159.8 391.4,161.5 390.7,162.3 391.6,162.7 392.5,163.2 392.9,164.5 392.8,166.0 393.5,166.5 393.5,167.3 394.1,168.5 395.2,169.3 395.3,170.9 395.8,171.5" fill="none" stroke="#000" stroke-width="1.3" stroke-linejoin="round"/>
<rect x="99.5" y="245" width="164.0" height="109.5" fill="none" stroke="#777" stroke-width="1.25"/>
<line x1="95.5" y1="354.5" x2="99.5" y2="354.5" stroke="#777" stroke-width="1" />
<text x="94.4" y="358.2" font-size="10.5" text-anchor="end" font-weight="normal" font-style="normal" fill="#222" stroke="#222" stroke-width="0.25" font-family='"Liberation Sans", sans-serif' >0</text>
<line x1="95.5" y1="327.125" x2="99.5" y2="327.125" stroke="#777" stroke-width="1" />
<text x="94.4" y="330.825" font-size="10.5" text-anchor="end" font-weight="normal" font-style="normal" fill="#222" stroke="#222" stroke-width="0.25" font-family='"Liberation Sans", sans-serif' >5000</text>
<line x1="95.5" y1="299.75" x2="99.5" y2="299.75" stroke="#777" stroke-width="1" />
<text x="94.4" y="303.45" font-size="10.5" text-anchor="end" font-weight="normal" font-style="normal" fill="#222" stroke="#222" stroke-width="0.25" font-family='"Liberation Sans", sans-serif' >10000</text>
<line x1="95.5" y1="272.375" x2="99.5" y2="272.375" stroke="#777" stroke-width="1" />
<text x="94.4" y="276.075" font-size="10.5" text-anchor="end" font-weight="normal" font-style="normal" fill="#222" stroke="#222" stroke-width="0.25" font-family='"Liberation Sans", sans-serif' >15000</text>
<line x1="95.5" y1="245.0" x2="99.5" y2="245.0" stroke="#777" stroke-width="1" />
<text x="94.4" y="248.7" font-size="10.5" text-anchor="end" font-weight="normal" font-style="normal" fill="#222" stroke="#222" stroke-width="0.25" font-family='"Liberation Sans", sans-serif' >20000</text>
<line x1="99.5" y1="354.5" x2="99.5" y2="357.5" stroke="#777" stroke-width="1" />
<text x="99.1" y="368" font-size="10.2" text-anchor="middle" font-weight="normal" font-style="normal" fill="#222" stroke="#222" stroke-width="0.25" font-family='"Liberation Sans", sans-serif' >-12</text>
<line x1="126.83333333333333" y1="354.5" x2="126.83333333333333" y2="357.5" stroke="#777" stroke-width="1" />
<text x="126.43333333333332" y="368" font-size="10.2" text-anchor="middle" font-weight="normal" font-style="normal" fill="#222" stroke="#222" stroke-width="0.25" font-family='"Liberation Sans", sans-serif' >-11</text>
<line x1="154.16666666666666" y1="354.5" x2="154.16666666666666" y2="357.5" stroke="#777" stroke-width="1" />
<text x="153.76666666666665" y="368" font-size="10.2" text-anchor="middle" font-weight="normal" font-style="normal" fill="#222" stroke="#222" stroke-width="0.25" font-family='"Liberation Sans", sans-serif' >-10</text>
<line x1="181.5" y1="354.5" x2="181.5" y2="357.5" stroke="#777" stroke-width="1" />
<text x="181.1" y="368" font-size="10.2" text-anchor="middle" font-weight="normal" font-style="normal" fill="#222" stroke="#222" stroke-width="0.25" font-family='"Liberation Sans", sans-serif' >-9</text>
<line x1="208.83333333333331" y1="354.5" x2="208.83333333333331" y2="357.5" stroke="#777" stroke-width="1" />
<text x="208.4333333333333" y="368" font-size="10.2" text-anchor="middle" font-weight="normal" font-style="normal" fill="#222" stroke="#222" stroke-width="0.25" font-family='"Liberation Sans", sans-serif' >-8</text>
<line x1="236.16666666666666" y1="354.5" x2="236.16666666666666" y2="357.5" stroke="#777" stroke-width="1" />
<text x="235.76666666666665" y="368" font-size="10.2" text-anchor="middle" font-weight="normal" font-style="normal" fill="#222" stroke="#222" stroke-width="0.25" font-family='"Liberation Sans", sans-serif' >-7</text>
<line x1="263.5" y1="354.5" x2="263.5" y2="357.5" stroke="#777" stroke-width="1" />
<text x="263.1" y="368" font-size="10.2" text-anchor="middle" font-weight="normal" font-style="normal" fill="#222" stroke="#222" stroke-width="0.25" font-family='"Liberation Sans", sans-serif' >-6</text>
<text x="143.3" y="385.5" font-size="12" text-anchor="start" font-weight="normal" font-style="normal" fill="#222" stroke="#222" stroke-width="0.25" font-family='"Liberation Sans", sans-serif' >Log[RANTES]</text>
<text x="0" y="0" font-size="12.2" text-anchor="middle" font-weight="normal" font-style="normal" fill="#222" stroke="#222" stroke-width="0.25" font-family='"Liberation Sans", sans-serif' transform="translate(42.2,303.6) rotate(-90)">Relative Binding</text>
<text x="0" y="0" font-size="11.8" text-anchor="middle" font-weight="normal" font-style="normal" fill="#222" stroke="#222" stroke-width="0.25" font-family='"Liberation Sans", sans-serif' transform="translate(56.2,302.9) rotate(-90)">(cpm)</text>
<polyline points="124.1,256.4 125.1,256.4 126.1,256.5 127.1,256.5 128.1,256.6 129.1,256.6 130.1,256.7 131.1,256.8 132.1,256.8 133.1,256.9 134.1,257.0 135.1,257.1 136.1,257.2 137.1,257.3 138.1,257.4 139.1,257.5 140.1,257.6 141.1,257.8 142.1,257.9 143.1,258.1 144.1,258.2 145.1,258.4 146.1,258.6 147.2,258.8 148.2,259.1 149.2,259.3 150.2,259.6 151.2,259.9 152.2,260.2 153.2,260.5 154.2,260.9 155.2,261.2 156.2,261.7 157.2,262.1 158.2,262.6 159.2,263.1 160.2,263.6 161.2,264.1 162.2,264.7 163.2,265.4 164.2,266.1 165.2,266.8 166.2,267.5 167.2,268.4 168.2,269.2 169.2,270.1 170.2,271.1 171.2,272.0 172.2,273.1 173.2,274.2 174.2,275.3 175.2,276.5 176.2,277.7 177.2,279.0 178.2,280.3 179.2,281.7 180.2,283.1 181.2,284.6 182.2,286.0 183.2,287.5 184.2,289.1 185.2,290.6 186.2,292.2 187.2,293.8 188.2,295.4 189.2,297.0 190.2,298.6 191.2,300.2 192.3,301.8 193.3,303.3 194.3,304.9 195.3,306.4 196.3,307.9 197.3,309.4 198.3,310.8 199.3,312.2 200.3,313.6 201.3,314.9 202.3,316.1 203.3,317.4 204.3,318.5 205.3,319.6 206.3,320.7 207.3,321.7 208.3,322.7 209.3,323.6 210.3,324.5 211.3,325.4 212.3,326.2 213.3,326.9 214.3,327.6 215.3,328.3 216.3,328.9 217.3,329.5 218.3,330.0 219.3,330.6 220.3,331.0 221.3,331.5 222.3,331.9 223.3,332.3 224.3,332.7 225.3,333.0 226.3,333.4 227.3,333.7 228.3,333.9 229.3,334.2 230.3,334.5 231.3,334.7 232.3,334.9 233.3,335.1 234.3,335.3 235.3,335.4 236.3,335.6 237.4,335.7 238.4,335.9 239.4,336.0 240.4,336.1 241.4,336.2 242.4,336.3 243.4,336.4 244.4,336.5" fill="none" stroke="#222" stroke-width="1.2"/>
<rect x="121.6" y="249.1" width="4.4" height="4.4" fill="#000"/>
<rect x="159.8" y="266.1" width="4.4" height="4.4" fill="#000"/>
<rect x="186.9" y="295.5" width="4.4" height="4.4" fill="#000"/>
<rect x="214.4" y="318.8" width="4.4" height="4.4" fill="#000"/>
<rect x="241.8" y="330.8" width="4.4" height="4.4" fill="#000"/>
<text x="183.9" y="257.9" font-size="10.5" text-anchor="start" font-weight="normal" font-style="normal" fill="#111" stroke="#111" stroke-width="0.25" font-family='"Liberation Sans", sans-serif' >Kd= 1.7nM</text>
<text x="183.9" y="270.3" font-size="10.5" text-anchor="start" font-weight="normal" font-style="normal" fill="#111" stroke="#111" stroke-width="0.25" font-family='"Liberation Sans", sans-serif' >Bmax=4721/cell</text>
<text x="181.6" y="283" font-size="10.8" fill="#111" stroke="#111" stroke-width="0.25" font-family='"Liberation Sans", sans-serif'><tspan font-style="italic" font-size="11.3">R</tspan><tspan font-size="7.6" dx="0.4" dy="-3.8">2</tspan><tspan dy="3.8">= 0.97</tspan></text>
<line x1="368.5" y1="244.5" x2="506" y2="244.5" stroke="#999" stroke-width="1" />
<line x1="368.5" y1="244.5" x2="368.5" y2="353.5" stroke="#999" stroke-width="1" />
<line x1="368.5" y1="353.5" x2="506" y2="353.5" stroke="#999" stroke-width="1" />
<line x1="364.5" y1="353.5" x2="368.5" y2="353.5" stroke="#999" stroke-width="1" />
<text x="364" y="357.2" font-size="10.5" text-anchor="end" font-weight="normal" font-style="normal" fill="#333" stroke="#333" stroke-width="0.25" font-family='"Liberation Sans", sans-serif' >0</text>
<line x1="364.5" y1="326.25" x2="368.5" y2="326.25" stroke="#999" stroke-width="1" />
<text x="364" y="329.95" font-size="10.5" text-anchor="end" font-weight="normal" font-style="normal" fill="#333" stroke="#333" stroke-width="0.25" font-family='"Liberation Sans", sans-serif' >5000</text>
<line x1="364.5" y1="299.0" x2="368.5" y2="299.0" stroke="#999" stroke-width="1" />
<text x="364" y="302.7" font-size="10.5" text-anchor="end" font-weight="normal" font-style="normal" fill="#333" stroke="#333" stroke-width="0.25" font-family='"Liberation Sans", sans-serif' >10000</text>
<line x1="364.5" y1="271.75" x2="368.5" y2="271.75" stroke="#999" stroke-width="1" />
<text x="364" y="275.45" font-size="10.5" text-anchor="end" font-weight="normal" font-style="normal" fill="#333" stroke="#333" stroke-width="0.25" font-family='"Liberation Sans", sans-serif' >15000</text>
<line x1="364.5" y1="244.5" x2="368.5" y2="244.5" stroke="#999" stroke-width="1" />
<text x="364" y="248.2" font-size="10.5" text-anchor="end" font-weight="normal" font-style="normal" fill="#333" stroke="#333" stroke-width="0.25" font-family='"Liberation Sans", sans-serif' >20000</text>
<line x1="368.5" y1="353.5" x2="368.5" y2="356.5" stroke="#999" stroke-width="1" />
<text x="368.1" y="367.5" font-size="10.2" text-anchor="middle" font-weight="normal" font-style="normal" fill="#333" stroke="#333" stroke-width="0.25" font-family='"Liberation Sans", sans-serif' >-12</text>
<line x1="395.8" y1="353.5" x2="395.8" y2="356.5" stroke="#999" stroke-width="1" />
<text x="395.40000000000003" y="367.5" font-size="10.2" text-anchor="middle" font-weight="normal" font-style="normal" fill="#333" stroke="#333" stroke-width="0.25" font-family='"Liberation Sans", sans-serif' >-11</text>
<line x1="423.1" y1="353.5" x2="423.1" y2="356.5" stroke="#999" stroke-width="1" />
<text x="422.70000000000005" y="367.5" font-size="10.2" text-anchor="middle" font-weight="normal" font-style="normal" fill="#333" stroke="#333" stroke-width="0.25" font-family='"Liberation Sans", sans-serif' >-10</text>
<line x1="450.4" y1="353.5" x2="450.4" y2="356.5" stroke="#999" stroke-width="1" />
<text x="450.0" y="367.5" font-size="10.2" text-anchor="middle" font-weight="normal" font-style="normal" fill="#333" stroke="#333" stroke-width="0.25" font-family='"Liberation Sans", sans-serif' >-9</text>
<line x1="477.7" y1="353.5" x2="477.7" y2="356.5" stroke="#999" stroke-width="1" />
<text x="477.3" y="367.5" font-size="10.2" text-anchor="middle" font-weight="normal" font-style="normal" fill="#333" stroke="#333" stroke-width="0.25" font-family='"Liberation Sans", sans-serif' >-8</text>
<line x1="505.0" y1="353.5" x2="505.0" y2="356.5" stroke="#999" stroke-width="1" />
<text x="504.6" y="367.5" font-size="10.2" text-anchor="middle" font-weight="normal" font-style="normal" fill="#333" stroke="#333" stroke-width="0.25" font-family='"Liberation Sans", sans-serif' >-7</text>
<text x="411.7" y="384.9" font-size="12" text-anchor="start" font-weight="normal" font-style="normal" fill="#333" stroke="#333" stroke-width="0.25" font-family='"Liberation Sans", sans-serif' >Log[RANTES]</text>
<text x="0" y="0" font-size="12.2" text-anchor="middle" font-weight="normal" font-style="normal" fill="#333" stroke="#333" stroke-width="0.25" font-family='"Liberation Sans", sans-serif' transform="translate(311,297.9) rotate(-90)">Relative Binding</text>
<text x="0" y="0" font-size="11.8" text-anchor="middle" font-weight="normal" font-style="normal" fill="#333" stroke="#333" stroke-width="0.25" font-family='"Liberation Sans", sans-serif' transform="translate(325.2,296) rotate(-90)">(cpm)</text>
<polyline points="393.1,292.5 394.0,292.5 395.0,292.5 395.9,292.5 396.9,292.5 397.8,292.5 398.8,292.5 399.8,292.5 400.7,292.5 401.7,292.6 402.6,292.6 403.6,292.6 404.5,292.6 405.5,292.6 406.4,292.6 407.4,292.6 408.4,292.6 409.3,292.6 410.3,292.6 411.2,292.7 412.2,292.7 413.1,292.7 414.1,292.7 415.0,292.7 416.0,292.8 417.0,292.8 417.9,292.8 418.9,292.8 419.8,292.9 420.8,292.9 421.7,292.9 422.7,293.0 423.6,293.0 424.6,293.1 425.6,293.1 426.5,293.2 427.5,293.2 428.4,293.3 429.4,293.4 430.3,293.5 431.3,293.5 432.2,293.6 433.2,293.7 434.2,293.8 435.1,293.9 436.1,294.1 437.0,294.2 438.0,294.3 438.9,294.5 439.9,294.6 440.8,294.8 441.8,295.0 442.8,295.2 443.7,295.4 444.7,295.6 445.6,295.9 446.6,296.2 447.5,296.4 448.5,296.7 449.4,297.1 450.4,297.4 451.4,297.8 452.3,298.2 453.3,298.6 454.2,299.0 455.2,299.5 456.1,300.0 457.1,300.5 458.0,301.1 459.0,301.7 460.0,302.3 460.9,302.9 461.9,303.6 462.8,304.3 463.8,305.1 464.7,305.8 465.7,306.6 466.6,307.4 467.6,308.3 468.6,309.1 469.5,310.0 470.5,310.9 471.4,311.9 472.4,312.8 473.3,313.7 474.3,314.7 475.2,315.7 476.2,316.6 477.2,317.6 478.1,318.6 479.1,319.5 480.0,320.5 481.0,321.4 481.9,322.3 482.9,323.2 483.8,324.1 484.8,325.0 485.8,325.8 486.7,326.6 487.7,327.4 488.6,328.2 489.6,328.9 490.5,329.6 491.5,330.3 492.4,330.9 493.4,331.5 494.4,332.1 495.3,332.6 496.3,333.1 497.2,333.6 498.2,334.1 499.1,334.5 500.1,334.9 501.0,335.3 502.0,335.7 503.0,336.0 503.9,336.4 504.9,336.7 505.8,336.9 506.8,337.2 507.7,337.4" fill="none" stroke="#888" stroke-width="0.9"/>
<rect x="390.8" y="288.9" width="4.2" height="4.2" fill="#000"/>
<rect x="429.3" y="292.0" width="4.2" height="4.2" fill="#000"/>
<rect x="456.4" y="300.6" width="4.2" height="4.2" fill="#000"/>
<rect x="483.4" y="322.7" width="4.2" height="4.2" fill="#000"/>
<text x="452.3" y="256.4" font-size="10.6" text-anchor="start" font-weight="normal" font-style="normal" fill="#333" stroke="#333" stroke-width="0.25" font-family='"Liberation Sans", sans-serif' >Kd= 8.7nM</text>
<text x="452.3" y="268.8" font-size="10.6" text-anchor="start" font-weight="normal" font-style="normal" fill="#333" stroke="#333" stroke-width="0.25" font-family='"Liberation Sans", sans-serif' >Bmax=2844/cell</text>
<text x="451.2" y="282" font-size="10.6" fill="#333" stroke="#333" stroke-width="0.25" font-family='"Liberation Sans", sans-serif'><tspan font-style="italic" font-size="11.8">R</tspan><tspan font-size="7" dx="0.6" dy="-3.8" fill="#777" stroke="#777">2</tspan><tspan dy="3.8">= 0.99</tspan></text>
<rect x="506" y="225" width="14" height="175" fill="#fff"/>
<rect x="81.5" y="414.5" width="127.0" height="120.0" fill="none" stroke="#555" stroke-width="1"/>
<line x1="77.5" y1="534.5" x2="81.5" y2="534.5" stroke="#555" stroke-width="1" />
<text x="76" y="541.0" font-size="10" text-anchor="end" font-weight="normal" font-style="normal" fill="#222" stroke="#222" stroke-width="0.25" font-family='"Liberation Sans", sans-serif' >0</text>
<line x1="77.5" y1="504.5" x2="81.5" y2="504.5" stroke="#555" stroke-width="1" />
<text x="76" y="511.0" font-size="10" text-anchor="end" font-weight="normal" font-style="normal" fill="#222" stroke="#222" stroke-width="0.25" font-family='"Liberation Sans", sans-serif' >75</text>
<line x1="77.5" y1="474.5" x2="81.5" y2="474.5" stroke="#555" stroke-width="1" />
<text x="76" y="481.0" font-size="10" text-anchor="end" font-weight="normal" font-style="normal" fill="#222" stroke="#222" stroke-width="0.25" font-family='"Liberation Sans", sans-serif' >150</text>
<line x1="77.5" y1="444.5" x2="81.5" y2="444.5" stroke="#555" stroke-width="1" />
<text x="76" y="451.0" font-size="10" text-anchor="end" font-weight="normal" font-style="normal" fill="#222" stroke="#222" stroke-width="0.25" font-family='"Liberation Sans", sans-serif' >225</text>
<line x1="77.5" y1="414.5" x2="81.5" y2="414.5" stroke="#555" stroke-width="1" />
<text x="76" y="421.0" font-size="10" text-anchor="end" font-weight="normal" font-style="normal" fill="#222" stroke="#222" stroke-width="0.25" font-family='"Liberation Sans", sans-serif' >300</text>
<line x1="97.9" y1="534.5" x2="97.9" y2="537.5" stroke="#555" stroke-width="1" />
<text x="97.9" y="551.7" font-size="10" text-anchor="middle" font-weight="normal" font-style="normal" fill="#222" stroke="#222" stroke-width="0.25" font-family='"Liberation Sans", sans-serif' >0</text>
<line x1="130.0" y1="534.5" x2="130.0" y2="537.5" stroke="#555" stroke-width="1" />
<text x="130.0" y="551.7" font-size="10" text-anchor="middle" font-weight="normal" font-style="normal" fill="#222" stroke="#222" stroke-width="0.25" font-family='"Liberation Sans", sans-serif' >1</text>
<line x1="161.5" y1="534.5" x2="161.5" y2="537.5" stroke="#555" stroke-width="1" />
<text x="161.5" y="551.7" font-size="10" text-anchor="middle" font-weight="normal" font-style="normal" fill="#222" stroke="#222" stroke-width="0.25" font-family='"Liberation Sans", sans-serif' >10</text>
<line x1="193.5" y1="534.5" x2="193.5" y2="537.5" stroke="#555" stroke-width="1" />
<text x="193.5" y="551.7" font-size="10" text-anchor="middle" font-weight="normal" font-style="normal" fill="#222" stroke="#222" stroke-width="0.25" font-family='"Liberation Sans", sans-serif' >100</text>
<text x="0" y="0" font-size="13.3" text-anchor="middle" font-weight="normal" font-style="normal" fill="#222" stroke="#222" stroke-width="0.25" font-family='"Liberation Sans", sans-serif' transform="translate(49.6,471.9) rotate(-90)">HIV p24 (pg/mL)</text>
<polyline points="97.5,460.5 129.5,452.5 161.3,443.3 193.4,458.5" fill="none" stroke="#222" stroke-width="1.1"/>
<polyline points="97.5,460.5 129.5,470.5 161.3,443.3 193.4,458.5" fill="none" stroke="#222" stroke-width="1.1"/>
<polyline points="97.5,460.5 129.5,444.5 161.3,524.5 193.4,503.3" fill="none" stroke="#222" stroke-width="1.1"/>
<line x1="97.5" y1="448.2" x2="97.5" y2="472.4" stroke="#222" stroke-width="1" />
<line x1="95.9" y1="448.2" x2="99.1" y2="448.2" stroke="#222" stroke-width="1" />
<line x1="95.9" y1="472.4" x2="99.1" y2="472.4" stroke="#222" stroke-width="1" />
<line x1="129.5" y1="424.4" x2="129.5" y2="464.4" stroke="#222" stroke-width="1" />
<line x1="127.9" y1="424.4" x2="131.1" y2="424.4" stroke="#222" stroke-width="1" />
<line x1="127.9" y1="464.4" x2="131.1" y2="464.4" stroke="#222" stroke-width="1" />
<line x1="129.5" y1="438.4" x2="129.5" y2="466.3" stroke="#222" stroke-width="1" />
<line x1="127.9" y1="438.4" x2="131.1" y2="438.4" stroke="#222" stroke-width="1" />
<line x1="127.9" y1="466.3" x2="131.1" y2="466.3" stroke="#222" stroke-width="1" />
<line x1="161.3" y1="437.5" x2="161.3" y2="449.3" stroke="#222" stroke-width="1" />
<line x1="159.70000000000002" y1="437.5" x2="162.9" y2="437.5" stroke="#222" stroke-width="1" />
<line x1="159.70000000000002" y1="449.3" x2="162.9" y2="449.3" stroke="#222" stroke-width="1" />
<line x1="161.3" y1="520.4" x2="161.3" y2="528.5" stroke="#222" stroke-width="1" />
<line x1="159.70000000000002" y1="520.4" x2="162.9" y2="520.4" stroke="#222" stroke-width="1" />
<line x1="159.70000000000002" y1="528.5" x2="162.9" y2="528.5" stroke="#222" stroke-width="1" />
<line x1="193.4" y1="453.4" x2="193.4" y2="462.4" stroke="#222" stroke-width="1" />
<line x1="191.8" y1="453.4" x2="195.0" y2="453.4" stroke="#222" stroke-width="1" />
<line x1="191.8" y1="462.4" x2="195.0" y2="462.4" stroke="#222" stroke-width="1" />
<line x1="193.4" y1="495.5" x2="193.4" y2="511.9" stroke="#222" stroke-width="1" />
<line x1="191.8" y1="495.5" x2="195.0" y2="495.5" stroke="#222" stroke-width="1" />
<line x1="191.8" y1="511.9" x2="195.0" y2="511.9" stroke="#222" stroke-width="1" />
<rect x="95.2" y="458.2" width="4.6" height="4.6" fill="#aaa" stroke="#111" stroke-width="1"/>
<rect x="127.2" y="450.2" width="4.6" height="4.6" fill="#aaa" stroke="#111" stroke-width="1"/>
<rect x="159.0" y="441.0" width="4.6" height="4.6" fill="#aaa" stroke="#111" stroke-width="1"/>
<rect x="191.1" y="456.2" width="4.6" height="4.6" fill="#aaa" stroke="#111" stroke-width="1"/>
<circle cx="97.5" cy="460.5" r="2.4" fill="#c4c4c4" stroke="#111" stroke-width="1"/>
<circle cx="129.5" cy="444.5" r="2.4" fill="#c4c4c4" stroke="#111" stroke-width="1"/>
<circle cx="161.3" cy="524.5" r="2.4" fill="#c4c4c4" stroke="#111" stroke-width="1"/>
<circle cx="193.4" cy="503.3" r="2.4" fill="#c4c4c4" stroke="#111" stroke-width="1"/>
<polygon points="126.8,472.4 132.2,472.4 129.5,467.9" fill="#e4e4e4" stroke="#111" stroke-width="1"/>
<polygon points="158.60000000000002,445.2 164.0,445.2 161.3,440.7" fill="#e4e4e4" stroke="#111" stroke-width="1"/>
<polygon points="190.70000000000002,460.4 196.1,460.4 193.4,455.9" fill="#e4e4e4" stroke="#111" stroke-width="1"/>
<polygon points="95.6,461.9 99.4,461.9 97.5,458.6" fill="#d0d0d0" stroke="#222" stroke-width="0.8"/>
<line x1="129.5" y1="441.5" x2="129.5" y2="447.2" stroke="#222" stroke-width="0.9" />
<text x="171.6" y="433.4" font-size="9.5" text-anchor="start" font-weight="normal" font-style="italic" fill="#1a1a1a" stroke="#1a1a1a" stroke-width="0.45" font-family='"Liberation Sans", sans-serif' >ZM</text>
<line x1="175.7" y1="433.8" x2="169.6" y2="445.8" stroke="#222" stroke-width="1" />
<text x="161.2" y="474.1" font-size="9.5" text-anchor="start" font-weight="normal" font-style="italic" fill="#1a1a1a" stroke="#1a1a1a" stroke-width="0.45" font-family='"Liberation Sans", sans-serif' textLength="36" lengthAdjust="spacingAndGlyphs">ZM/CGS</text>
<line x1="160.9" y1="469.1" x2="147.4" y2="460.1" stroke="#222" stroke-width="1" />
<text x="165.9" y="504.9" font-size="9.5" text-anchor="start" font-weight="normal" font-style="italic" fill="#1a1a1a" stroke="#1a1a1a" stroke-width="0.45" font-family='"Liberation Sans", sans-serif' >CGS</text>
<line x1="164.9" y1="501.5" x2="155.9" y2="508.9" stroke="#222" stroke-width="1" />
</svg>
</body></html>
